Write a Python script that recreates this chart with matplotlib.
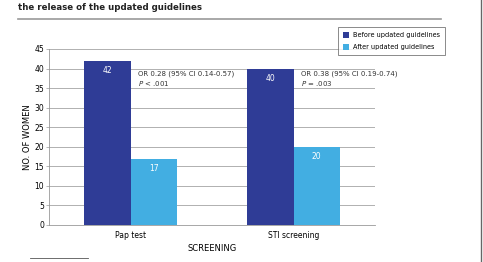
import numpy as np
import matplotlib.pyplot as plt
from matplotlib.lines import Line2D

categories = ['Pap test', 'STI screening']
before = [42, 40]
after = [17, 20]
series_names = ['Before updated guidelines', 'After updated guidelines']
notes = [('OR 0.28 (95% CI 0.14-0.57)', '$P$ < .001'),
         ('OR 0.38 (95% CI 0.19-0.74)', '$P$ = .003')]
yticks = list(range(0, 46, 5))

dark = '#2f3c96'
light = '#42aee2'

fig = plt.figure(figsize=(4.83, 2.62), dpi=100)
ax = fig.add_axes([49 / 483, 1 - 225 / 262, (375 - 49) / 483, (225 - 49) / 262])

x = np.arange(len(categories))
w = 0.283
b1 = ax.bar(x - w / 2, before, w, color=dark, label=series_names[0], zorder=3)
b2 = ax.bar(x + w / 2, after, w, color=light, label=series_names[1], zorder=3)

for bars, vals in [(b1, before), (b2, after)]:
    for r, v in zip(bars, vals):
        ax.text(r.get_x() + r.get_width() / 2, v - 2.6, str(v), ha='center', va='center',
                color='white', fontsize=5.5)

for i, (l1, l2) in enumerate(notes):
    ax.text(x[i] + 0.045, 38.6, l1, fontsize=5, color='#333333', va='center')
    ax.text(x[i] + 0.045, 36.2, l2, fontsize=5, color='#333333', va='center')

ax.set_xlim(-0.5, 1.5)
ax.set_ylim(0, 45)
ax.set_yticks(yticks)
ax.set_xticks(x)
ax.set_xticklabels(categories, fontsize=5.5)
ax.tick_params(axis='y', labelsize=5.5, length=2, width=0.5, color='#999999', pad=1.5)
ax.tick_params(axis='x', length=0, pad=4)
ax.grid(axis='y', color='#b0b0b0', linewidth=0.7, zorder=0)
for s in ['top', 'right']:
    ax.spines[s].set_visible(False)
ax.spines['left'].set_color('#999999')
ax.spines['bottom'].set_color('#999999')
ax.spines['left'].set_linewidth(0.6)
ax.spines['bottom'].set_linewidth(0.6)
ax.set_ylabel('NO. OF WOMEN', fontsize=6, labelpad=2)
ax.set_xlabel('SCREENING', fontsize=6, labelpad=3)

leg = fig.legend(loc='upper left', bbox_to_anchor=(338 / 483, 1 - 27 / 262), fontsize=4.7,
                 frameon=True, fancybox=False, edgecolor='#555555', handlelength=1,
                 handleheight=1.1, borderpad=0.7, labelspacing=0.9, handletextpad=0.6,
                 borderaxespad=0)
leg.get_frame().set_linewidth(0.6)

fig.text(18 / 483, 1 - 8 / 262, 'the release of the updated guidelines', fontsize=6.2,
         fontweight='bold', va='center', color='#222222')
fig.add_artist(Line2D([18 / 483, 441 / 483], [1 - 19 / 262] * 2, color='#999999', lw=1.2))
fig.add_artist(Line2D([30 / 483, 88 / 483], [1 - 258 / 262] * 2, color='#555555', lw=0.6))
fig.add_artist(Line2D([481 / 483] * 2, [0, 1], color='#666666', lw=1.0))

fig.savefig('out.png', dpi=100)
